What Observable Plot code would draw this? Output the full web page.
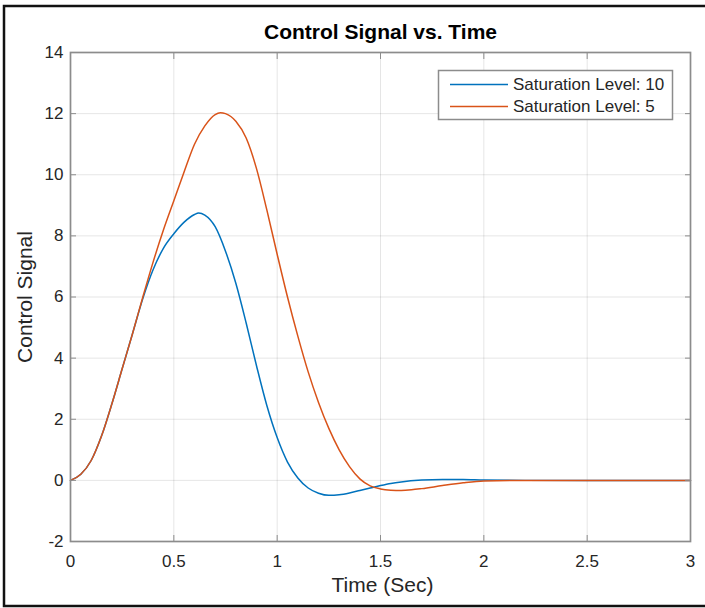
<!DOCTYPE html>
<html>
<head>
<meta charset="utf-8">
<script src="https://cdn.jsdelivr.net/npm/d3@7"></script>
<script src="https://cdn.jsdelivr.net/npm/@observablehq/plot@0.6"></script>
<style>
  html, body { margin: 0; padding: 0; background: #fff; }
  #chart { width: 705px; height: 608px; }
</style>
</head>
<body>
<div id="chart"></div>
<script>
// ---- Data ----
const title = "Control Signal vs. Time";
const xLabel = "Time (Sec)";
const yLabel = "Control Signal";
const seriesNames = ["Saturation Level: 10", "Saturation Level: 5"];
const seriesColors = ["#0072BD", "#D95319"];

const xTicks = [0, 0.5, 1, 1.5, 2, 2.5, 3];
const yTicks = [-2, 0, 2, 4, 6, 8, 10, 12, 14];

const timeSat10 = [0, 0.05, 0.1, 0.15, 0.2, 0.25, 0.3, 0.35, 0.4, 0.45, 0.5, 0.55, 0.6, 0.62, 0.65, 0.7, 0.75, 0.8, 0.85, 0.9, 0.95, 1.0, 1.05, 1.1, 1.15, 1.2, 1.25, 1.3, 1.35, 1.4, 1.45, 1.5, 1.55, 1.6, 1.7, 1.8, 1.9, 2.0, 2.2, 2.5, 3.0];
const signalSat10 = [0, 0.2, 0.65, 1.45, 2.5, 3.65, 4.8, 5.95, 6.9, 7.6, 8.07, 8.45, 8.7, 8.75, 8.68, 8.3, 7.5, 6.45, 5.15, 3.75, 2.45, 1.4, 0.6, 0.08, -0.25, -0.42, -0.49, -0.47, -0.41, -0.33, -0.25, -0.17, -0.1, -0.05, 0.01, 0.03, 0.03, 0.01, 0, 0, 0];

const timeSat5 = [0, 0.05, 0.1, 0.15, 0.2, 0.25, 0.3, 0.35, 0.4, 0.45, 0.5, 0.55, 0.6, 0.65, 0.7, 0.725, 0.75, 0.8, 0.85, 0.9, 0.95, 1.0, 1.05, 1.1, 1.15, 1.2, 1.25, 1.3, 1.35, 1.4, 1.45, 1.5, 1.55, 1.6, 1.65, 1.7, 1.8, 1.9, 2.0, 2.2, 2.5, 3.0];
const signalSat5 = [0, 0.2, 0.65, 1.45, 2.5, 3.65, 4.8, 6.0, 7.15, 8.2, 9.15, 10.1, 11.0, 11.6, 11.97, 12.03, 12.0, 11.75, 11.2, 10.2, 8.85, 7.4, 6.0, 4.72, 3.55, 2.55, 1.7, 1.0, 0.45, 0.05, -0.18, -0.28, -0.32, -0.33, -0.31, -0.27, -0.17, -0.08, -0.02, 0, 0, 0];

// ---- Build table ----
const rows = [
  ...timeSat10.map((t, i) => ({t, v: signalSat10[i], s: seriesNames[0]})),
  ...timeSat5.map((t, i) => ({t, v: signalSat5[i], s: seriesNames[1]}))
];

const textColor = "#262626";
const axisColor = "#8c8c8c";
const fontFamily = "'Liberation Sans', Arial, sans-serif";
const noLabel = () => "";
const plain = d => String(d);

const plot = Plot.plot({
  width: 705,
  height: 608,
  marginLeft: 70,
  marginRight: 15,
  marginTop: 52,
  marginBottom: 67,
  style: {fontFamily, fontSize: "17px", color: textColor, background: "#fff"},
  x: {domain: [0, 3], ticks: xTicks, label: null},
  y: {domain: [-2, 14], ticks: yTicks, label: null},
  color: {domain: seriesNames, range: seriesColors},
  marks: [
    Plot.gridX(xTicks, {stroke: "#000", strokeOpacity: 0.1}),
    Plot.gridY(yTicks, {stroke: "#000", strokeOpacity: 0.1}),
    Plot.line(rows, {x: "t", y: "v", z: "s", stroke: "s", strokeWidth: 1.5, curve: "monotone-x"}),
    Plot.frame({stroke: axisColor, strokeWidth: 1.7}),
    Plot.axisX(xTicks, {anchor: "bottom", tickSize: -6, tickFormat: noLabel, stroke: axisColor, label: null}),
    Plot.axisX(xTicks, {anchor: "top", tickSize: -6, tickFormat: noLabel, stroke: axisColor, label: null}),
    Plot.axisY(yTicks, {anchor: "left", tickSize: -6, tickFormat: noLabel, stroke: axisColor, label: null}),
    Plot.axisY(yTicks, {anchor: "right", tickSize: -6, tickFormat: noLabel, stroke: axisColor, label: null}),
    Plot.axisX(xTicks, {anchor: "bottom", tickSize: 0, tickPadding: 13, tickFormat: plain, fill: textColor, fontSize: 17, label: null}),
    Plot.axisY(yTicks, {anchor: "left", tickSize: 0, tickPadding: 7, tickFormat: plain, fill: textColor, fontSize: 17, label: null}),
    Plot.text([title], {frameAnchor: "top", lineAnchor: "middle", textAnchor: "middle", dy: -20, fontWeight: "bold", fontSize: 21, fill: "#000"}),
    Plot.text([xLabel], {frameAnchor: "bottom", lineAnchor: "middle", textAnchor: "middle", dy: 44, dx: 2, fontSize: 21, fill: textColor}),
    Plot.text([yLabel], {frameAnchor: "left", lineAnchor: "middle", textAnchor: "middle", dx: -45, rotate: -90, fontSize: 21, fill: textColor})
  ]
});

document.getElementById("chart").appendChild(plot);

// ---- Legend & outer border ----
const svg = d3.select(plot);
const lg = svg.append("g");
lg.append("rect")
  .attr("x", 438.5).attr("y", 70.5).attr("width", 234).attr("height", 49)
  .attr("fill", "#fff").attr("stroke", axisColor).attr("stroke-width", 1.5);
seriesNames.forEach((name, i) => {
  const y = 84.5 + i * 22;
  lg.append("line").attr("x1", 450).attr("x2", 508).attr("y1", y).attr("y2", y)
    .attr("stroke", seriesColors[i]).attr("stroke-width", 1.5);
  lg.append("text").attr("x", 513).attr("y", y).attr("dy", "0.35em")
    .attr("text-anchor", "start")
    .attr("fill", textColor).attr("font-size", 17)
    .attr("font-family", fontFamily).text(name);
});
svg.append("path")
  .attr("d", "M705,6 H4 V606 H705")
  .attr("fill", "none").attr("stroke", "#111").attr("stroke-width", 2.5);
</script>
</body>
</html>
